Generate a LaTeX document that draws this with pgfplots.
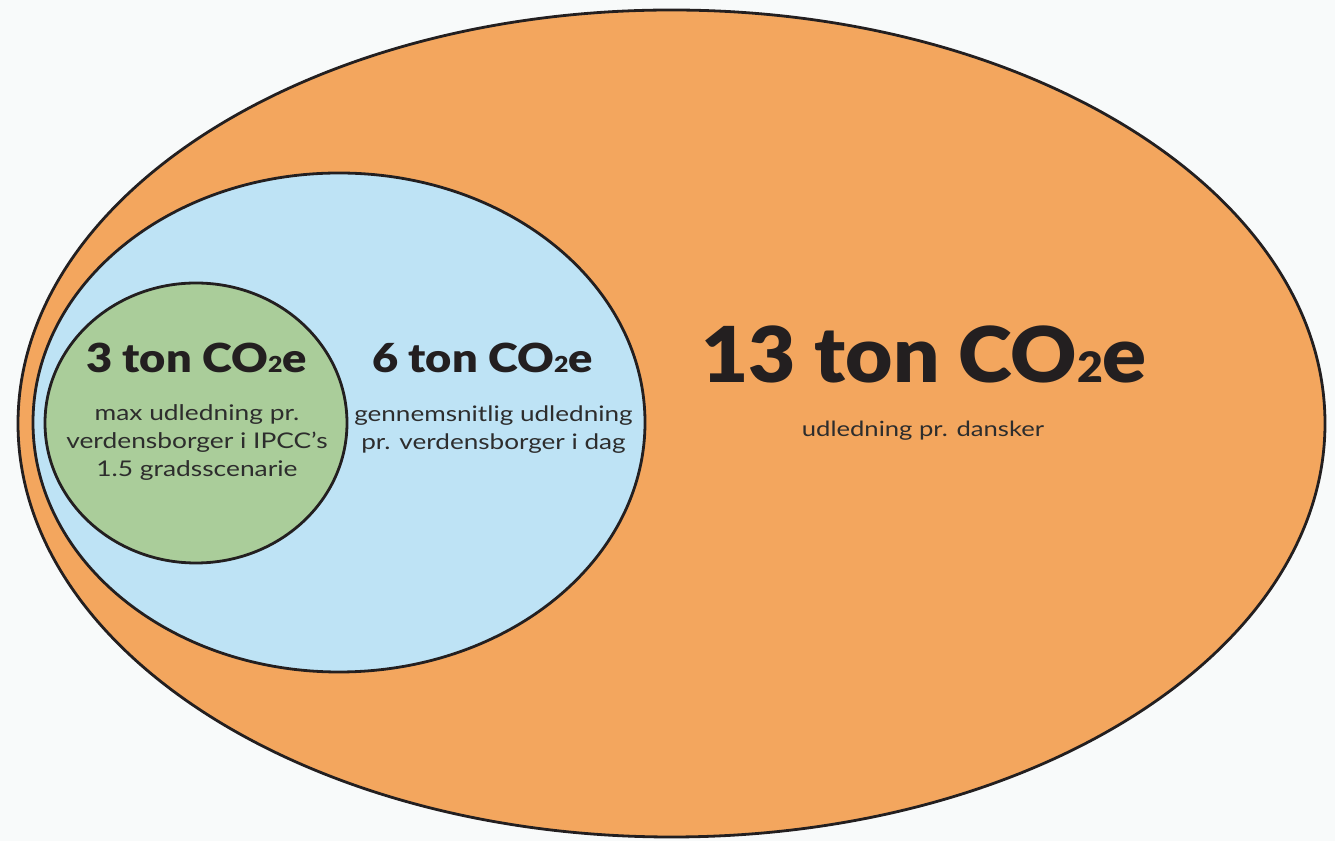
\documentclass[border=0pt]{standalone}
\usepackage{pgfplots}
\pgfplotsset{compat=1.18}
\usepackage{fontspec}
\setmainfont{Lato}
\newfontfamily\bigfont{Lato Black}[FakeStretch=1.06]
\newfontfamily\midfont{Lato Black}[FakeStretch=1.13]
\newfontfamily\bodyfont{Lato}[FakeStretch=1.22]
\definecolor{bgc}{RGB}{248,250,250}
\definecolor{orangec}{RGB}{243,166,94}
\definecolor{bluec}{RGB}{190,227,245}
\definecolor{greenc}{RGB}{170,205,154}
\definecolor{inkc}{RGB}{35,31,32}
\definecolor{textc}{RGB}{45,45,45}
\begin{document}
\begin{tikzpicture}
\begin{axis}[
  width=1335bp, height=841bp, scale only axis,
  xmin=0, xmax=1335, ymin=0, ymax=841,
  hide axis, clip=false,
]
% background
\fill[bgc] (axis cs:0,0) rectangle (axis cs:1335,841);
% outer: 13 ton
\filldraw[fill=orangec, draw=inkc, line width=2.8bp]
  (axis cs:671.5,417.5) ellipse[x radius=653.5bp, y radius=413.5bp];
% middle: 6 ton
\filldraw[fill=bluec, draw=inkc, line width=2.8bp]
  (axis cs:339,418.5) ellipse[x radius=306bp, y radius=249.5bp];
% inner: 3 ton
\filldraw[fill=greenc, draw=inkc, line width=2.8bp]
  (axis cs:196,418) ellipse[x radius=151bp, y radius=140bp];
% labels
\node[anchor=base, inkc, inner sep=0pt] at (axis cs:924,458)
  {\bigfont\fontsize{77bp}{80bp}\selectfont 13 ton CO{\fontsize{42bp}{42bp}\selectfont 2}e};
\node[anchor=base, textc, inner sep=0pt] at (axis cs:923,404)
  {\bodyfont\fontsize{21bp}{24bp}\selectfont udledning pr. dansker};
\node[anchor=base, inkc, inner sep=0pt] at (axis cs:482.5,468)
  {\midfont\fontsize{40bp}{42bp}\selectfont 6 ton CO{\fontsize{22bp}{22bp}\selectfont 2}e};
\node[anchor=base, textc, inner sep=0pt] at (axis cs:493.5,419)
  {\bodyfont\fontsize{21.4bp}{24bp}\selectfont gennemsnitlig udledning};
\node[anchor=base, textc, inner sep=0pt] at (axis cs:493.5,391)
  {\bodyfont\fontsize{21.4bp}{24bp}\selectfont pr. verdensborger i dag};
\node[anchor=base, inkc, inner sep=0pt] at (axis cs:196.5,468)
  {\midfont\fontsize{40bp}{42bp}\selectfont 3 ton CO{\fontsize{22bp}{22bp}\selectfont 2}e};
\node[anchor=base, textc, inner sep=0pt] at (axis cs:197,420)
  {\bodyfont\fontsize{21.6bp}{24bp}\selectfont max udledning pr.};
\node[anchor=base, textc, inner sep=0pt] at (axis cs:197,392)
  {\bodyfont\fontsize{21.6bp}{24bp}\selectfont verdensborger i IPCC’s};
\node[anchor=base, textc, inner sep=0pt] at (axis cs:197,364)
  {\bodyfont\fontsize{21.6bp}{24bp}\selectfont 1.5 gradsscenarie};
\end{axis}
\end{tikzpicture}
\end{document}
